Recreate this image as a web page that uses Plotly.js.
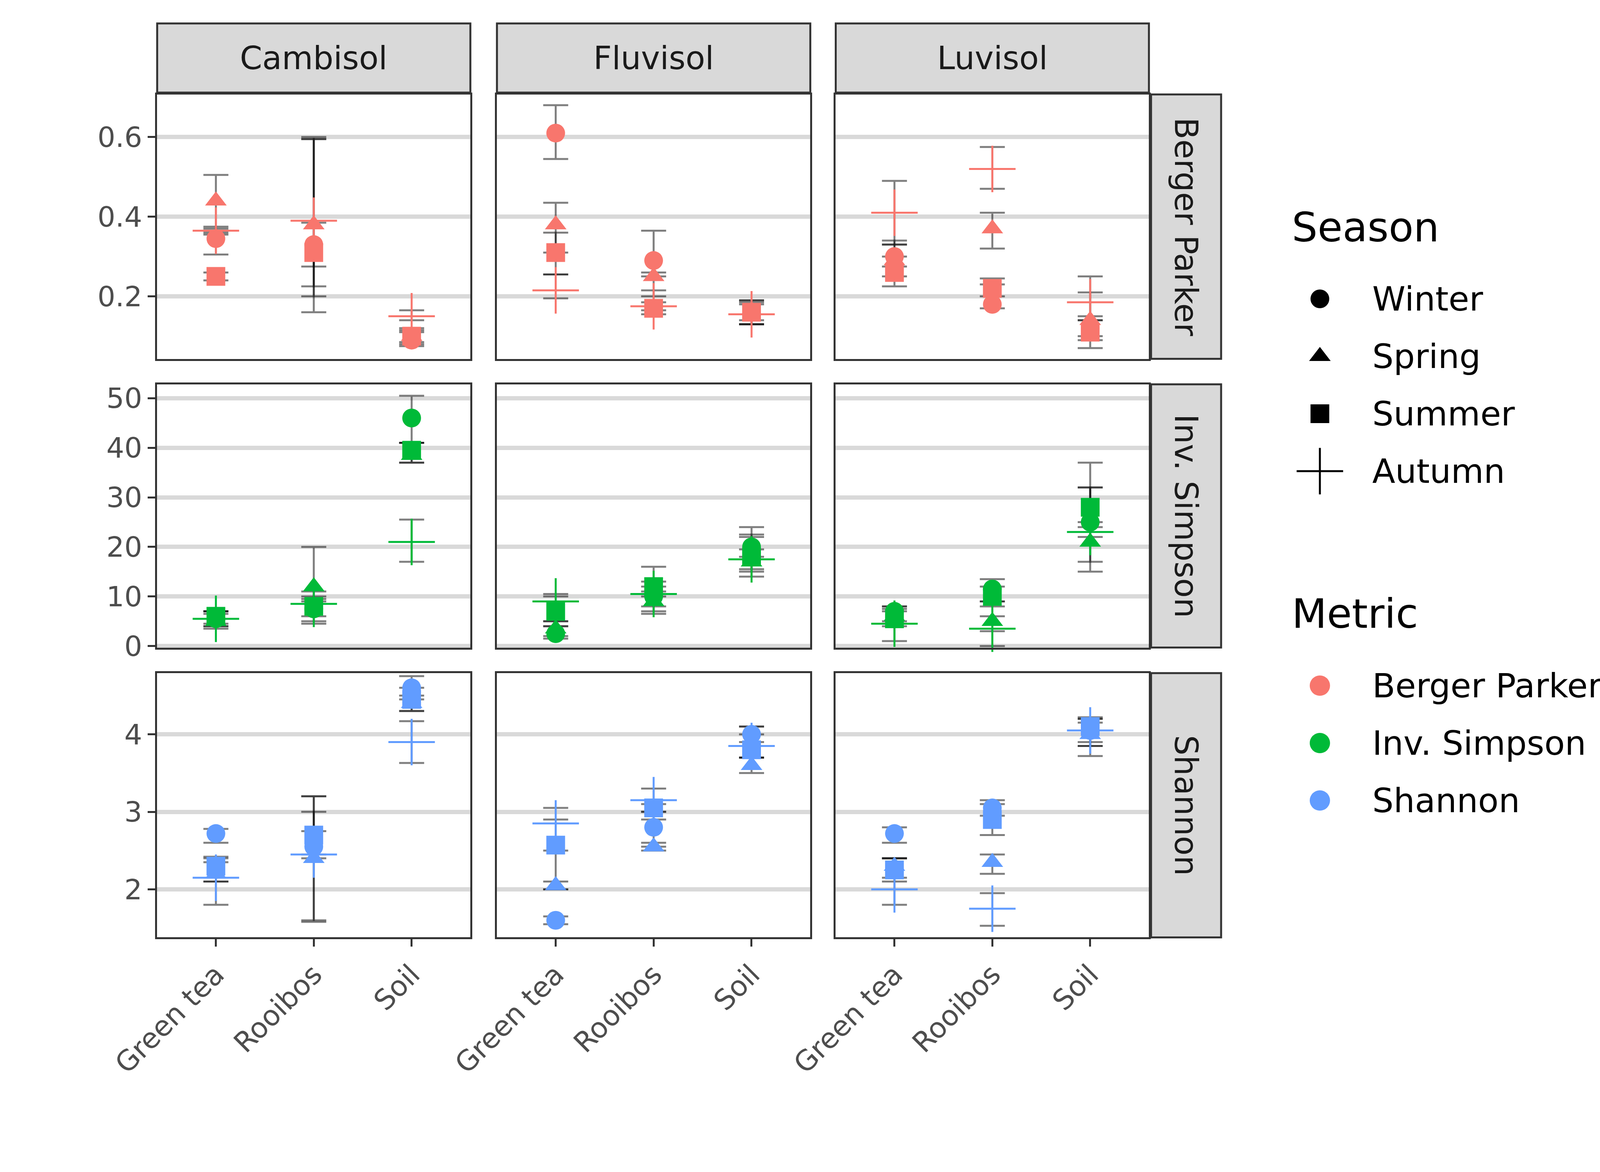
<!DOCTYPE html>
<html><head><meta charset="utf-8">
<script src="https://cdn.plot.ly/plotly-3.0.1.min.js"></script>
<style>body{margin:0;background:#fff}</style></head>
<body><div id="chart" style="width:4200px;height:3000px"></div>
<script>
const categories = ["Green tea", "Rooibos", "Soil"];
const soils = ["Cambisol", "Fluvisol", "Luvisol"];
const metrics = ["Berger Parker", "Inv. Simpson", "Shannon"];
const seasons = ["Winter", "Spring", "Summer", "Autumn"];
const metricColors = ["#F8766D", "#00BA38", "#619CFF"];
const seasonSymbols = ["circle", "triangle-up", "square", "cross-thin-open"];
const yRanges = [[0.043, 0.707], [-0.3, 52.8], [1.38, 4.79]];
const yTicks = [[0.2, 0.4, 0.6], [0, 10, 20, 30, 40, 50], [2, 3, 4]];

// each array: 9 values = [Cambisol GT, R, S, Fluvisol GT, R, S, Luvisol GT, R, S]
// Berger Parker
const bp_winter_mean = [0.345, 0.33, 0.09, 0.61, 0.29, 0.16, 0.30, 0.18, 0.12];
const bp_winter_lo   = [0.305, 0.275, 0.075, 0.545, 0.25, 0.13, 0.275, 0.17, 0.09];
const bp_winter_hi   = [0.36, 0.385, 0.11, 0.68, 0.365, 0.19, 0.34, 0.23, 0.14];
const bp_spring_mean = [0.44, 0.38, 0.10, 0.38, 0.25, 0.165, 0.29, 0.37, 0.14];
const bp_spring_lo   = [0.37, 0.225, 0.085, 0.31, 0.20, 0.14, 0.25, 0.32, 0.10];
const bp_spring_hi   = [0.505, 0.60, 0.115, 0.435, 0.26, 0.185, 0.33, 0.41, 0.21];
const bp_summer_mean = [0.25, 0.31, 0.10, 0.31, 0.17, 0.16, 0.26, 0.22, 0.11];
const bp_summer_lo   = [0.24, 0.16, 0.08, 0.255, 0.155, 0.13, 0.225, 0.20, 0.07];
const bp_summer_hi   = [0.26, 0.595, 0.12, 0.36, 0.185, 0.19, 0.30, 0.245, 0.14];
const bp_autumn_mean = [0.365, 0.39, 0.15, 0.215, 0.175, 0.155, 0.41, 0.52, 0.185];
const bp_autumn_lo   = [0.355, 0.20, 0.14, 0.195, 0.165, 0.13, 0.33, 0.47, 0.15];
const bp_autumn_hi   = [0.375, 0.595, 0.165, 0.255, 0.215, 0.18, 0.49, 0.575, 0.25];
// Inv. Simpson
const is_winter_mean = [5.5, 7.5, 46, 2.5, 10, 20, 7, 11.5, 25];
const is_winter_lo   = [4, 5, 41, 1.5, 8, 18, 5, 9, 22];
const is_winter_hi   = [7, 9, 50.5, 4, 12, 22, 8, 13.5, 32];
const is_spring_mean = [5, 12, 38.5, 3.5, 9, 17, 6, 5, 21];
const is_spring_lo   = [3.5, 9.5, 37, 2, 6.5, 15, 4.5, 3, 17];
const is_spring_hi   = [6.5, 20, 41, 5, 11, 19.5, 7.5, 9, 25];
const is_summer_mean = [6, 8, 39.5, 7, 12, 18, 5.5, 10, 28];
const is_summer_lo   = [4.5, 6, 37, 4, 10, 15.5, 4, 8, 24];
const is_summer_hi   = [7, 10, 41, 10, 13, 22.5, 7, 12, 32];
const is_autumn_mean = [5.5, 8.5, 21, 9, 10.5, 17.5, 4.5, 3.5, 23];
const is_autumn_lo   = [4, 4.5, 17, 5, 7, 14, 1, 0, 15];
const is_autumn_hi   = [7, 11, 25.5, 10.5, 16, 24, 8, 6, 37];
// Shannon
const sh_winter_mean = [2.72, 2.55, 4.6, 1.6, 2.8, 4.0, 2.72, 3.05, 4.05];
const sh_winter_lo   = [2.6, 2.4, 4.45, 1.55, 2.55, 3.9, 2.6, 2.95, 3.9];
const sh_winter_hi   = [2.78, 2.75, 4.75, 1.65, 3.0, 4.1, 2.8, 3.1, 4.2];
const sh_spring_mean = [2.2, 2.4, 4.4, 2.05, 2.55, 3.6, 2.3, 2.35, 4.0];
const sh_spring_lo   = [2.1, 1.6, 4.3, 2.0, 2.5, 3.5, 2.15, 2.2, 3.85];
const sh_spring_hi   = [2.4, 3.2, 4.5, 2.1, 2.6, 3.7, 2.4, 2.45, 4.15];
const sh_summer_mean = [2.3, 2.7, 4.45, 2.57, 3.05, 3.8, 2.25, 2.9, 4.1];
const sh_summer_lo   = [2.1, 2.45, 4.3, 2.5, 2.9, 3.7, 2.1, 2.7, 3.85];
const sh_summer_hi   = [2.42, 3.0, 4.6, 2.9, 3.1, 4.0, 2.4, 3.15, 4.2];
const sh_autumn_mean = [2.15, 2.45, 3.9, 2.85, 3.15, 3.85, 2.0, 1.75, 4.05];
const sh_autumn_lo   = [1.8, 1.58, 3.63, 2.0, 3.0, 3.7, 1.8, 1.53, 3.72];
const sh_autumn_hi   = [2.35, 3.2, 4.17, 3.05, 3.3, 4.1, 2.4, 1.95, 4.22];

const data3 = [
  [[bp_winter_mean,bp_winter_lo,bp_winter_hi],[bp_spring_mean,bp_spring_lo,bp_spring_hi],[bp_summer_mean,bp_summer_lo,bp_summer_hi],[bp_autumn_mean,bp_autumn_lo,bp_autumn_hi]],
  [[is_winter_mean,is_winter_lo,is_winter_hi],[is_spring_mean,is_spring_lo,is_spring_hi],[is_summer_mean,is_summer_lo,is_summer_hi],[is_autumn_mean,is_autumn_lo,is_autumn_hi]],
  [[sh_winter_mean,sh_winter_lo,sh_winter_hi],[sh_spring_mean,sh_spring_lo,sh_spring_hi],[sh_summer_mean,sh_summer_lo,sh_summer_hi],[sh_autumn_mean,sh_autumn_lo,sh_autumn_hi]]
];

const colDom = [[0.0958, 0.2867], [0.3029, 0.4939], [0.5094, 0.7003]];
const rowDom = [[0.6938, 0.9194], [0.4475, 0.6721], [0.2002, 0.4257]];

const traces = [], pointTraces = [];
const layout = {
  width: 4200, height: 3000, margin: {l:0, r:0, t:0, b:0},
  paper_bgcolor: "#fff", plot_bgcolor: "rgba(0,0,0,0)", showlegend: false,
  font: {family: "DejaVu Sans", color: "#4d4d4d"},
  shapes: [], annotations: [],
  xaxis10: {domain: [0, 1], range: [0, 1], visible: false, fixedrange: true, anchor: "y10"},
  yaxis10: {domain: [0, 1], range: [0, 1], visible: false, fixedrange: true, anchor: "x10"}
};

for (let r = 0; r < 3; r++) {
  for (let c = 0; c < 3; c++) {
    const i = r * 3 + c + 1;
    const xa = "x" + (i === 1 ? "" : i), ya = "y" + (i === 1 ? "" : i);
    layout["xaxis" + (i === 1 ? "" : i)] = {
      domain: colDom[c], anchor: ya, type: "category", categoryorder: "array", categoryarray: categories,
      range: [-0.6, 2.6], showgrid: false, zeroline: false,
      showline: true, mirror: true, linecolor: "#333", linewidth: 5,
      ticks: r === 2 ? "outside" : "", ticklen: 19, tickwidth: 5, tickcolor: "#333",
      showticklabels: r === 2, tickangle: -45, tickfont: {size: 72, color: "#4d4d4d"}
    };
    layout["yaxis" + (i === 1 ? "" : i)] = {
      domain: rowDom[r], anchor: xa, range: yRanges[r], tickvals: yTicks[r],
      showgrid: true, gridcolor: "#d9d9d9", gridwidth: 11, zeroline: false,
      showline: true, mirror: true, linecolor: "#333", linewidth: 5,
      ticks: c === 0 ? "outside" : "", ticklen: 19, tickwidth: 5, tickcolor: "#333",
      showticklabels: c === 0, tickfont: {size: 72, color: "#4d4d4d"}
    };
    for (let s = 0; s < 4; s++) {
      const [m, lo, hi] = data3[r][s];
      const mv = m.slice(c*3, c*3+3), lv = lo.slice(c*3, c*3+3), hv = hi.slice(c*3, c*3+3);
      const common = {type: "scatter", mode: "markers", x: categories, y: mv, xaxis: xa, yaxis: ya,
        hoverinfo: "skip", cliponaxis: false};
      traces.push(Object.assign({}, common, {
        marker: {opacity: 0, size: 1},
        error_y: {type: "data", symmetric: false, array: hv.map((h, k) => h - mv[k]),
          arrayminus: mv.map((v, k) => v - lv[k]), color: "rgba(0,0,0,0.5)", thickness: 5, width: 32}
      }));
      const autumn = s === 3;
      pointTraces.push(Object.assign({}, common, {
        marker: {symbol: seasonSymbols[s], size: autumn ? 85 : 48, color: metricColors[r],
          line: {width: autumn ? 5 : 0, color: metricColors[r]}}
      }));
    }
  }
}
// strips
for (let c = 0; c < 3; c++) {
  layout.shapes.push({type: "rect", xref: "paper", yref: "paper", x0: colDom[c][0], x1: colDom[c][1],
    y0: 0.921, y1: 0.980, fillcolor: "#d9d9d9", line: {color: "#333", width: 5}});
  layout.annotations.push({xref: "paper", yref: "paper", x: (colDom[c][0]+colDom[c][1])/2, y: 0.9505,
    xanchor: "center", yanchor: "middle",
    text: soils[c], showarrow: false, font: {size: 82, color: "#1a1a1a"}});
}
for (let r = 0; r < 3; r++) {
  layout.shapes.push({type: "rect", xref: "paper", yref: "paper", x0: 0.7016, x1: 0.7443,
    y0: rowDom[r][0], y1: rowDom[r][1], fillcolor: "#d9d9d9", line: {color: "#333", width: 5}});
  layout.annotations.push({xref: "paper", yref: "paper", x: 0.723, y: (rowDom[r][0]+rowDom[r][1])/2,
    xanchor: "center", yanchor: "middle",
    text: metrics[r], showarrow: false, textangle: 90, font: {size: 82, color: "#1a1a1a"}});
}
// manual legends
const legX = 0.8045, legTextX = 0.836;
const seasonY = [0.745, 0.696, 0.647, 0.598];
const metricY = [0.415, 0.366, 0.317];
layout.annotations.push({xref: "paper", yref: "paper", x: 0.787, y: 0.806, xanchor: "left", yanchor: "middle",
  text: "Season", showarrow: false, font: {size: 104, color: "#000"}});
layout.annotations.push({xref: "paper", yref: "paper", x: 0.787, y: 0.4764, xanchor: "left", yanchor: "middle",
  text: "Metric", showarrow: false, font: {size: 104, color: "#000"}});
const legendTraces = [];
for (let s = 0; s < 4; s++) {
  legendTraces.push({type: "scatter", mode: "markers", x: [legX], y: [seasonY[s]], xaxis: "x10", yaxis: "y10",
    hoverinfo: "skip", cliponaxis: false,
    marker: {symbol: seasonSymbols[s], size: s === 3 ? 85 : 48, color: "#000", line: {width: s === 3 ? 5 : 0, color: "#000"}}});
  layout.annotations.push({xref: "paper", yref: "paper", x: legTextX, y: seasonY[s], xanchor: "left", yanchor: "middle",
    text: seasons[s], showarrow: false, font: {size: 86, color: "#000"}});
}
for (let r = 0; r < 3; r++) {
  legendTraces.push({type: "scatter", mode: "markers", x: [legX], y: [metricY[r]], xaxis: "x10", yaxis: "y10",
    hoverinfo: "skip", cliponaxis: false,
    marker: {symbol: "circle", size: 52, color: metricColors[r]}});
  layout.annotations.push({xref: "paper", yref: "paper", x: legTextX, y: metricY[r], xanchor: "left", yanchor: "middle",
    text: metrics[r], showarrow: false, font: {size: 86, color: "#000"}});
}
Plotly.newPlot("chart", traces.concat(pointTraces, legendTraces), layout, {staticPlot: true});
</script></body></html>
